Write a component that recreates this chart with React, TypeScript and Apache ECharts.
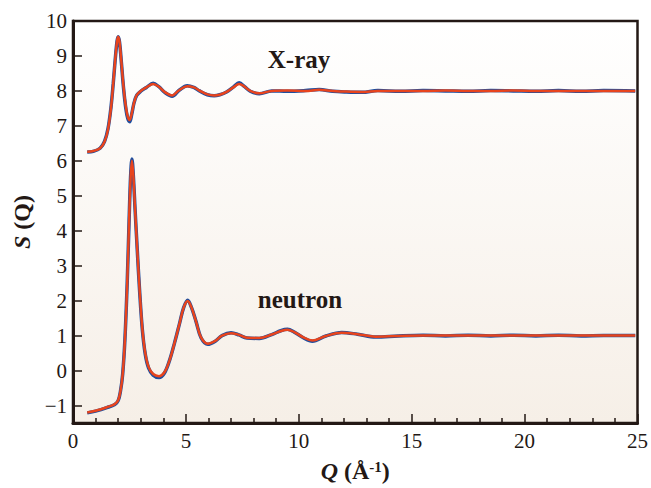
import React, { useEffect, useRef } from "react";
import * as echarts from "echarts";

// X-ray S(Q): measured (blue) and fit (red)
const xrayFit: [number, number][] = [
  [0.63, 6.26], [0.9, 6.28], [1.2, 6.36], [1.4, 6.55], [1.55, 6.9], [1.68, 7.5], [1.78, 8.2],
  [1.87, 8.9], [1.95, 9.42], [2.0, 9.55], [2.06, 9.4], [2.14, 8.85], [2.24, 8.1], [2.34, 7.55],
  [2.43, 7.25], [2.51, 7.17], [2.6, 7.35], [2.7, 7.65], [2.82, 7.88], [3.0, 8.0], [3.25, 8.1],
  [3.55, 8.2], [3.8, 8.12], [4.1, 7.95], [4.39, 7.87], [4.7, 8.02], [5.06, 8.13], [5.35, 8.1],
  [5.6, 8.01], [5.95, 7.9], [6.25, 7.87], [6.5, 7.89], [6.8, 7.97], [7.1, 8.1], [7.36, 8.2],
  [7.6, 8.12], [7.85, 8.0], [8.25, 7.93], [8.8, 8.0], [9.5, 8.01], [10.3, 8.0], [10.9, 8.03],
  [11.5, 8.0], [12.1, 7.98], [12.8, 7.97], [13.5, 8.0], [14.5, 8.0], [15.5, 8.0], [16.5, 8.01],
  [17.5, 8.0], [18.5, 8.0], [19.5, 8.01], [20.5, 8.0], [21.5, 8.0], [22.5, 8.0], [23.5, 8.0], [24.9, 8.0],
];
const xrayData: [number, number][] = [
  [0.63, 6.25], [0.9, 6.27], [1.2, 6.36], [1.4, 6.56], [1.55, 6.92], [1.68, 7.52], [1.78, 8.2],
  [1.87, 8.9], [1.95, 9.42], [2.0, 9.55], [2.06, 9.4], [2.14, 8.84], [2.24, 8.07], [2.34, 7.5],
  [2.43, 7.2], [2.51, 7.12], [2.6, 7.33], [2.7, 7.65], [2.82, 7.87], [3.0, 7.99], [3.25, 8.1],
  [3.55, 8.22], [3.8, 8.12], [4.1, 7.94], [4.39, 7.85], [4.7, 8.02], [5.06, 8.15], [5.35, 8.1],
  [5.6, 8.0], [5.95, 7.89], [6.25, 7.86], [6.5, 7.89], [6.8, 7.97], [7.1, 8.11], [7.36, 8.23],
  [7.6, 8.12], [7.85, 7.99], [8.25, 7.92], [8.8, 8.0], [9.5, 7.99], [10.3, 8.01], [10.9, 8.04],
  [11.5, 7.99], [12.1, 7.97], [12.8, 7.96], [13.5, 8.01], [14.5, 7.99], [15.5, 8.01], [16.5, 8.0],
  [17.5, 7.99], [18.5, 8.01], [19.5, 8.0], [20.5, 7.99], [21.5, 8.01], [22.5, 7.99], [23.5, 8.01], [24.9, 8.0],
];

// Neutron S(Q): measured (blue) and fit (red)
const neutronFit: [number, number][] = [
  [0.63, -1.2], [1.0, -1.15], [1.5, -1.05], [1.85, -0.96], [2.0, -0.85], [2.1, -0.6], [2.2, -0.1],
  [2.3, 0.9], [2.4, 2.5], [2.48, 4.2], [2.55, 5.5], [2.61, 6.0], [2.67, 5.6], [2.75, 4.6],
  [2.85, 3.4], [2.95, 2.3], [3.07, 1.2], [3.2, 0.5], [3.35, 0.1], [3.55, -0.1], [3.81, -0.16],
  [4.05, -0.05], [4.28, 0.3], [4.5, 0.8], [4.72, 1.35], [4.9, 1.8], [5.08, 1.99], [5.25, 1.8],
  [5.45, 1.4], [5.67, 0.95], [5.97, 0.77], [6.3, 0.85], [6.6, 1.0], [7.0, 1.07], [7.35, 1.02],
  [7.7, 0.94], [8.25, 0.93], [8.8, 1.03], [9.2, 1.13], [9.5, 1.17], [9.8, 1.1], [10.2, 0.95],
  [10.6, 0.86], [11.2, 0.99], [11.9, 1.08], [12.6, 1.04], [13.4, 0.97], [14.4, 0.99], [15.5, 1.0],
  [16.5, 1.0], [17.5, 1.0], [18.5, 1.0], [19.5, 1.0], [20.5, 1.0], [21.5, 1.0], [22.5, 1.0], [23.5, 1.0], [24.9, 1.0],
];
const neutronData: [number, number][] = [
  [0.63, -1.21], [1.0, -1.16], [1.5, -1.06], [1.85, -0.97], [2.0, -0.86], [2.1, -0.6], [2.2, -0.1],
  [2.3, 0.9], [2.4, 2.5], [2.48, 4.2], [2.55, 5.55], [2.61, 6.05], [2.67, 5.6], [2.75, 4.6],
  [2.85, 3.4], [2.95, 2.28], [3.07, 1.18], [3.2, 0.47], [3.35, 0.07], [3.55, -0.13], [3.81, -0.2],
  [4.05, -0.07], [4.28, 0.3], [4.5, 0.8], [4.72, 1.35], [4.9, 1.8], [5.08, 2.01], [5.25, 1.8],
  [5.45, 1.4], [5.67, 0.94], [5.97, 0.75], [6.3, 0.84], [6.6, 1.0], [7.0, 1.08], [7.35, 1.02],
  [7.7, 0.93], [8.25, 0.92], [8.8, 1.03], [9.2, 1.14], [9.5, 1.18], [9.8, 1.1], [10.2, 0.94],
  [10.6, 0.84], [11.2, 0.99], [11.9, 1.09], [12.6, 1.04], [13.4, 0.96], [14.4, 0.99], [15.5, 1.01],
  [16.5, 0.99], [17.5, 1.01], [18.5, 0.99], [19.5, 1.01], [20.5, 0.99], [21.5, 1.01], [22.5, 0.99], [23.5, 1.0], [24.9, 1.0],
];

const yTickValues = [-1, 0, 1, 2, 3, 4, 5, 6, 7, 8, 9, 10];

const INK = "#231815";
const RED = "#e8441d";
const BLUE = "#1f4e9e";
const SERIF = "'Liberation Serif', 'Times New Roman', serif";

export default function App() {
  const ref = useRef<HTMLDivElement>(null);
  useEffect(() => {
    if (!ref.current) return;
    const chart = echarts.init(ref.current, undefined, { renderer: "svg" });
    const line = (data: [number, number][], color: string, width: number, z: number) => ({
      type: "line",
      data,
      smooth: 0.35,
      showSymbol: false,
      symbol: "none",
      z,
      lineStyle: { color, width },
    });
    chart.setOption({
      animation: false,
      backgroundColor: "#ffffff",
      grid: {
        left: 73,
        right: 11,
        top: 21,
        bottom: 63,
        show: true,
        borderColor: INK,
        borderWidth: 2.5,
        backgroundColor: new echarts.graphic.LinearGradient(0, 0, 0, 1, [
          { offset: 0, color: "#ffffff" },
          { offset: 1, color: "#f6efe7" },
        ]),
      },
      xAxis: {
        type: "value",
        min: 0,
        max: 25,
        interval: 5,
        axisLine: { onZero: false, lineStyle: { color: INK, width: 3 } },
        axisTick: { inside: true, length: 9, lineStyle: { color: INK, width: 1.5 } },
        minorTick: { show: true, splitNumber: 5, length: 5, lineStyle: { color: INK, width: 1.5 } },
        splitLine: { show: false },
        axisLabel: { color: INK, fontSize: 21, fontFamily: SERIF, margin: 7 },
        name: "{i|Q}{b| (Å}{s|-1}{b|)}",
        nameLocation: "middle",
        nameGap: 36,
        nameTextStyle: {
          rich: {
            i: { fontSize: 24, fontWeight: "bold", fontStyle: "italic", fontFamily: SERIF, color: INK },
            b: { fontSize: 24, fontWeight: "bold", fontFamily: SERIF, color: INK },
            s: { fontSize: 15, fontWeight: "bold", fontFamily: SERIF, color: INK, verticalAlign: "top" },
          },
        },
      },
      yAxis: {
        type: "value",
        min: -1.5,
        max: 10,
        axisLine: { show: true, onZero: false, lineStyle: { color: INK, width: 3 } },
        axisTick: { show: true, inside: true, length: 9, customValues: yTickValues, lineStyle: { color: INK, width: 1.5 } },
        splitLine: { show: false },
        axisLabel: { color: INK, fontSize: 21, fontFamily: SERIF, margin: 6, customValues: yTickValues,
          formatter: (v: number) => (v < 0 ? "\u2212" + Math.abs(v) : String(v)) },
        name: "{i|S}{b| (Q)}",
        nameLocation: "middle",
        nameRotate: 90,
        nameGap: 36,
        nameTextStyle: {
          rich: {
            i: { fontSize: 24, fontWeight: "bold", fontStyle: "italic", fontFamily: SERIF, color: INK },
            b: { fontSize: 24, fontWeight: "bold", fontFamily: SERIF, color: INK },
          },
        },
      },
      graphic: [
        { type: "text", x: 299, y: 59, style: { text: "X-ray", fill: INK, font: `bold 25px ${SERIF}`, align: "center", verticalAlign: "middle" } },
        { type: "text", x: 300, y: 299, style: { text: "neutron", fill: INK, font: `bold 25px ${SERIF}`, align: "center", verticalAlign: "middle" } },
      ],
      series: [
        line(xrayData, BLUE, 3.5, 2),
        line(neutronData, BLUE, 3.5, 2),
        line(xrayFit, RED, 2.5, 3),
        line(neutronFit, RED, 2.5, 3),
      ],
    });
    return () => chart.dispose();
  }, []);
  return <div ref={ref} style={{ width: 651, height: 488, position: "absolute", left: 0, top: 0 }} />;
}
